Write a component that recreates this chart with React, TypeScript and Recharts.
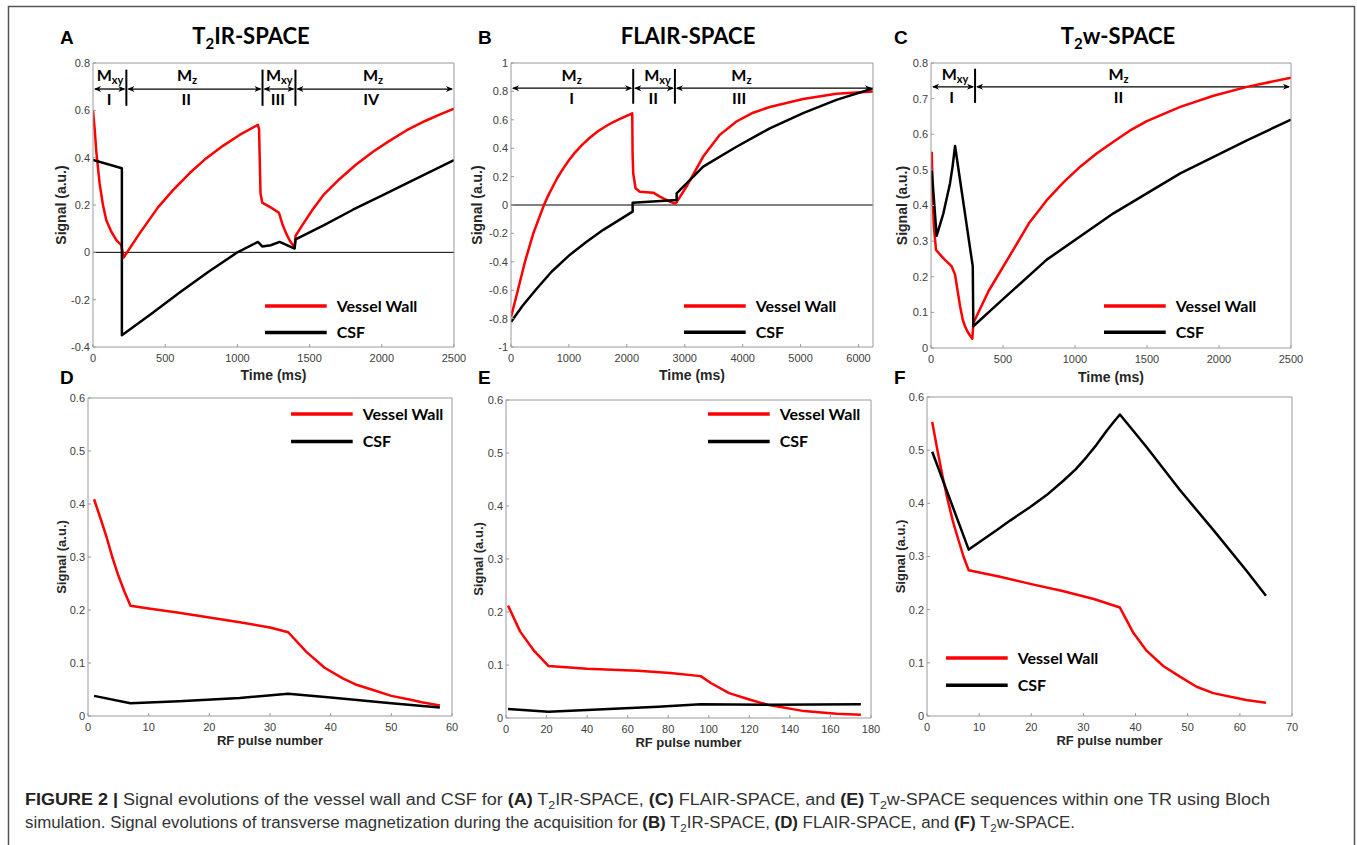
import React from 'react';
import { LineChart, Line, XAxis, YAxis, ReferenceLine, ReferenceDot, Legend } from 'recharts';

const RED = '#ff0000';
const BLACK = '#000000';
const AXIS = '#9a9a9a';
const SERIES_NAMES = ['Vessel Wall', 'CSF'];
const SERIES_COLORS = [RED, BLACK];

// ---------- Panel A : T2IR-SPACE (time evolution) ----------
const aVesselT = [0, 12, 23, 35, 46, 69, 92, 127, 162, 196, 205, 212, 323, 450, 554, 670, 785, 900, 1015, 1142, 1150, 1160, 1172, 1230, 1288, 1311, 1339, 1362, 1385, 1396, 1403, 1450, 1520, 1600, 1708, 1820, 1939, 2050, 2170, 2300, 2400, 2500];
const aVesselS = [0.6, 0.517, 0.426, 0.355, 0.29, 0.2, 0.136, 0.087, 0.052, 0.03, 0.0, -0.022, 0.08, 0.19, 0.263, 0.335, 0.398, 0.45, 0.496, 0.539, 0.52, 0.25, 0.21, 0.19, 0.167, 0.12, 0.078, 0.05, 0.03, 0.02, 0.07, 0.115, 0.18, 0.245, 0.31, 0.37, 0.425, 0.47, 0.515, 0.555, 0.582, 0.607];
const aCsfT = [0, 200, 200, 400, 600, 800, 1000, 1142, 1172, 1230, 1293, 1396, 1403, 1600, 1800, 2000, 2200, 2500];
const aCsfS = [0.39, 0.355, -0.35, -0.262, -0.17, -0.082, 0.0, 0.044, 0.025, 0.03, 0.044, 0.016, 0.055, 0.115, 0.18, 0.24, 0.3, 0.39];
const aXTicks = [0, 500, 1000, 1500, 2000, 2500];
const aYTicks = [-0.4, -0.2, 0, 0.2, 0.4, 0.6, 0.8];
const aBars = [231, 1174, 1402];
const aArrowX = [0, 231, 1174, 1402, 2500];
const aMX = [118, 651, 1290, 1939];
const aRomanX = [111, 646, 1281, 1927];
const aSub = ['xy', 'z', 'xy', 'z'];
const aRoman = ['I', 'II', 'III', 'IV'];

// ---------- Panel B : FLAIR-SPACE (time evolution) ----------
const bVesselT = [0, 100, 241, 385, 569, 650, 799, 900, 1000, 1100, 1219, 1350, 1500, 1650, 1765, 1900, 2093, 2100, 2110, 2150, 2225, 2455, 2570, 2743, 2830, 2860, 3030, 3318, 3605, 3893, 4180, 4468, 5043, 5618, 6250];
const bVesselS = [-0.788, -0.63, -0.4, -0.2, 0.0, 0.073, 0.19, 0.256, 0.315, 0.367, 0.42, 0.47, 0.519, 0.558, 0.584, 0.61, 0.645, 0.35, 0.224, 0.118, 0.094, 0.087, 0.059, 0.024, 0.01, 0.02, 0.13, 0.341, 0.494, 0.588, 0.65, 0.69, 0.746, 0.784, 0.8];
const bCsfT = [0, 200, 443, 700, 1018, 1300, 1593, 1850, 2100, 2100, 2860, 2860, 3318, 3893, 4468, 5043, 5618, 6250];
const bCsfS = [-0.824, -0.71, -0.59, -0.47, -0.35, -0.26, -0.175, -0.11, -0.047, 0.016, 0.035, 0.082, 0.27, 0.41, 0.54, 0.647, 0.74, 0.82];
const bXTicks = [0, 1000, 2000, 3000, 4000, 5000, 6000];
const bYTicks = [-1, -0.8, -0.6, -0.4, -0.2, 0, 0.2, 0.4, 0.6, 0.8, 1];
const bBars = [2110, 2830];
const bArrowX = [0, 2110, 2830, 6250];
const bMX = [1047, 2530, 3979];
const bRomanX = [1047, 2455, 3939];
const bSub = ['z', 'xy', 'z'];
const bRoman = ['I', 'II', 'III'];

// ---------- Panel C : T2w-SPACE (time evolution) ----------
const cVesselT = [5, 8, 12, 20, 35, 90, 144, 167, 185, 202, 220, 236, 255, 271, 287, 294, 400, 572, 680, 804, 920, 1036, 1150, 1267, 1380, 1499, 1731, 1962, 2194, 2500];
const cVesselS = [0.551, 0.5, 0.42, 0.34, 0.275, 0.25, 0.229, 0.206, 0.16, 0.117, 0.08, 0.061, 0.045, 0.035, 0.026, 0.07, 0.16, 0.276, 0.35, 0.415, 0.465, 0.509, 0.546, 0.579, 0.61, 0.637, 0.677, 0.708, 0.733, 0.759];
const cCsfT = [5, 39, 86, 132, 150, 167, 290, 294, 500, 804, 1267, 1731, 2194, 2500];
const cCsfS = [0.5, 0.315, 0.378, 0.462, 0.51, 0.567, 0.229, 0.061, 0.137, 0.248, 0.378, 0.49, 0.583, 0.641];
const cXTicks = [0, 500, 1000, 1500, 2000, 2500];
const cYTicks = [0, 0.1, 0.2, 0.3, 0.4, 0.5, 0.6, 0.7, 0.8];
const cBars = [306];
const cArrowX = [0, 306, 2500];
const cMX = [167, 1302];
const cRomanX = [144, 1302];
const cSub = ['xy', 'z'];
const cRoman = ['I', 'II'];

// ---------- Panel D : T2IR-SPACE (per RF pulse) ----------
const dVesselN = [1, 2, 3, 4, 5, 6, 7, 10, 15, 20, 25, 30, 33, 36, 39, 42, 44, 47, 50, 53, 55, 58];
const dVesselS = [0.409, 0.375, 0.34, 0.3, 0.265, 0.235, 0.208, 0.203, 0.195, 0.186, 0.177, 0.167, 0.158, 0.121, 0.091, 0.071, 0.06, 0.049, 0.038, 0.031, 0.026, 0.02];
const dCsfN = [1, 7, 15, 25, 33, 40, 50, 58];
const dCsfS = [0.038, 0.024, 0.028, 0.034, 0.042, 0.035, 0.024, 0.016];
const dXTicks = [0, 10, 20, 30, 40, 50, 60];
const pulseYTicks = [0, 0.1, 0.2, 0.3, 0.4, 0.5, 0.6];

// ---------- Panel E : FLAIR-SPACE (per RF pulse) ----------
const eVesselN = [1, 7, 14, 21, 40, 65, 81, 96, 101, 110, 120, 129, 147, 163, 175];
const eVesselS = [0.212, 0.163, 0.126, 0.098, 0.093, 0.089, 0.085, 0.079, 0.066, 0.047, 0.035, 0.025, 0.013, 0.008, 0.006];
const eCsfN = [1, 21, 40, 56, 75, 96, 130, 175];
const eCsfS = [0.017, 0.012, 0.015, 0.018, 0.021, 0.026, 0.025, 0.026];
const eXTicks = [0, 20, 40, 60, 80, 100, 120, 140, 160, 180];

// ---------- Panel F : T2w-SPACE (per RF pulse) ----------
const fVesselN = [1, 2, 3, 4, 5, 6, 7, 8, 14, 20, 26, 32, 37, 39.6, 42, 45.3, 48.5, 51.7, 54.9, 61.2, 65];
const fVesselS = [0.553, 0.5, 0.45, 0.405, 0.365, 0.332, 0.3, 0.274, 0.262, 0.248, 0.235, 0.22, 0.204, 0.156, 0.124, 0.094, 0.074, 0.055, 0.043, 0.03, 0.025];
const fCsfN = [1, 8, 13.4, 16, 19.8, 23, 26.2, 28.5, 30.6, 32.5, 34.5, 35.8, 37, 42.1, 48.5, 54.9, 61.2, 65];
const fCsfS = [0.497, 0.313, 0.35, 0.368, 0.393, 0.416, 0.443, 0.464, 0.487, 0.51, 0.537, 0.553, 0.567, 0.506, 0.425, 0.35, 0.274, 0.226];
const fXTicks = [0, 10, 20, 30, 40, 50, 60, 70];

const zip = (xs: number[], ys: number[]) => xs.map((x, i) => ({ x, y: ys[i] }));
const fmt = (v: number) => String(Math.round(v * 100) / 100);

type Annot = {
  bars: number[]; barY: [number, number]; arrowX: number[]; arrowY: number;
  mX: number[]; romanX: number[]; sub: string[]; roman: string[]; mY: number; romanY: number;
};
type Cfg = {
  id: string; letter: string; letterX: number; letterY: number;
  title?: React.ReactNode; titleX?: number;
  box: { left: number; top: number; width: number; height: number };
  xDomain: [number, number]; xTicks: number[]; yDomain: [number, number]; yTicks: number[];
  vessel: { x: number; y: number }[]; csf: { x: number; y: number }[];
  zero: boolean; legend: { x: number; y: number; gap: number };
  xLabel: string; xLabelDy: number; yLabelDx: number; labelSize: number;
  annot?: Annot;
};

const TitleSub = ({ pre, post }: { pre: string; post: string }) => (
  <>
    {pre}
    <tspan fontSize={15} dy={5}>2</tspan>
    <tspan dy={-5}>{post}</tspan>
  </>
);

const panels: Cfg[] = [
  {
    id: 'A', letter: 'A', letterX: 60, letterY: 44, title: <TitleSub pre="T" post="IR-SPACE" />, titleX: 251,
    box: { left: 93, top: 63, width: 361, height: 284 },
    xDomain: [0, 2500], xTicks: aXTicks, yDomain: [-0.4, 0.8], yTicks: aYTicks,
    vessel: zip(aVesselT, aVesselS), csf: zip(aCsfT, aCsfS), zero: true,
    legend: { x: 265, y: 305.7, gap: 26.6 }, xLabel: 'Time (ms)', xLabelDy: 33, yLabelDx: 31.6, labelSize: 14,
    annot: { bars: aBars, barY: [0.619, 0.772], arrowX: aArrowX, arrowY: 0.69, mX: aMX, romanX: aRomanX, sub: aSub, roman: aRoman, mY: 0.722, romanY: 0.623 },
  },
  {
    id: 'B', letter: 'B', letterX: 478, letterY: 44, title: 'FLAIR-SPACE', titleX: 688,
    box: { left: 511, top: 63, width: 362, height: 284 },
    xDomain: [0, 6250], xTicks: bXTicks, yDomain: [-1, 1], yTicks: bYTicks,
    vessel: zip(bVesselT, bVesselS), csf: zip(bCsfT, bCsfS), zero: true,
    legend: { x: 684.3, y: 306, gap: 26.3 }, xLabel: 'Time (ms)', xLabelDy: 33, yLabelDx: 33.7, labelSize: 14,
    annot: { bars: bBars, barY: [0.713, 0.958], arrowX: bArrowX, arrowY: 0.823, mX: bMX, romanX: bRomanX, sub: bSub, roman: bRoman, mY: 0.871, romanY: 0.713 },
  },
  {
    id: 'C', letter: 'C', letterX: 894, letterY: 44, title: <TitleSub pre="T" post="w-SPACE" />, titleX: 1118,
    box: { left: 931, top: 63, width: 360, height: 285 },
    xDomain: [0, 2500], xTicks: cXTicks, yDomain: [0, 0.8], yTicks: cYTicks,
    vessel: zip(cVesselT, cVesselS), csf: zip(cCsfT, cCsfS), zero: false,
    legend: { x: 1104.3, y: 306, gap: 26.3 }, xLabel: 'Time (ms)', xLabelDy: 33.5, yLabelDx: 29.3, labelSize: 14,
    annot: { bars: cBars, barY: [0.688, 0.784], arrowX: cArrowX, arrowY: 0.733, mX: cMX, romanX: cRomanX, sub: cSub, roman: cRoman, mY: 0.751, romanY: 0.689 },
  },
  {
    id: 'D', letter: 'D', letterX: 60, letterY: 384,
    box: { left: 88, top: 398, width: 364, height: 318 },
    xDomain: [0, 60], xTicks: dXTicks, yDomain: [0, 0.6], yTicks: pulseYTicks,
    vessel: zip(dVesselN, dVesselS), csf: zip(dCsfN, dCsfS), zero: false,
    legend: { x: 290.7, y: 414.3, gap: 27.4 }, xLabel: 'RF pulse number', xLabelDy: 29, yLabelDx: 26.7, labelSize: 13,
  },
  {
    id: 'E', letter: 'E', letterX: 478, letterY: 384,
    box: { left: 506, top: 400, width: 365, height: 318 },
    xDomain: [0, 180], xTicks: eXTicks, yDomain: [0, 0.6], yTicks: pulseYTicks,
    vessel: zip(eVesselN, eVesselS), csf: zip(eCsfN, eCsfS), zero: false,
    legend: { x: 708.3, y: 414.3, gap: 27.4 }, xLabel: 'RF pulse number', xLabelDy: 29, yLabelDx: 27.3, labelSize: 13,
  },
  {
    id: 'F', letter: 'F', letterX: 894, letterY: 384,
    box: { left: 927, top: 397, width: 365, height: 319 },
    xDomain: [0, 70], xTicks: fXTicks, yDomain: [0, 0.6], yTicks: pulseYTicks,
    vessel: zip(fVesselN, fVesselS), csf: zip(fCsfN, fCsfS), zero: false,
    legend: { x: 946, y: 657.7, gap: 27.3 }, xLabel: 'RF pulse number', xLabelDy: 29, yLabelDx: 26.7, labelSize: 13,
  },
];

const LATO = 'Lato, "Open Sans", sans-serif';
const ARIAL = '"Liberation Sans", Arial, Helvetica, sans-serif';
const TICK = { fontSize: 11, fill: '#404040', fontFamily: ARIAL };

const ArrowShape = (p: any) => {
  const { x1, y1, x2 } = p;
  const h = 7;
  const w = 3;
  const n = 2;
  const l = Math.min(x1, x2);
  const r = Math.max(x1, x2);
  const y = y1;
  return (
    <g>
      <line x1={l + 2} y1={y} x2={r - 2} y2={y} stroke="#000" strokeWidth={1.3} />
      <polygon points={`${l + 1},${y} ${l + 1 + h},${y - w} ${l + 1 + h - n},${y} ${l + 1 + h},${y + w}`} fill="#000" />
      <polygon points={`${r - 1},${y} ${r - 1 - h},${y - w} ${r - 1 - h + n},${y} ${r - 1 - h},${y + w}`} fill="#000" />
    </g>
  );
};

const MLabel = ({ cx, cy, sub }: any) => (
  <text x={cx} y={cy} textAnchor="middle" fontFamily={LATO} fontWeight={700} fontSize={16} fill="#000">
    M<tspan fontSize={11} dy={3}>{sub}</tspan>
  </text>
);

const RomanLabel = ({ cx, cy, txt }: any) => (
  <text x={cx} y={cy} textAnchor="middle" fontFamily={LATO} fontWeight={700} fontSize={16} fill="#000">
    {txt}
  </text>
);

const LegendBox = (props: any) => {
  const gap: number = props.gap;
  const payload: any[] = props.payload && props.payload.length ? props.payload : [];
  const items = SERIES_NAMES.map((name, i) => {
    const hit = payload.find((p: any) => String(p.value) === name);
    return { name, color: hit && hit.color ? hit.color : SERIES_COLORS[i] };
  });
  return (
    <svg width={200} height={gap + 18} style={{ display: 'block', overflow: 'visible' }}>
      {items.map((it, i) => {
        const y = 8 + i * gap;
        return (
          <g key={it.name}>
            <line x1={0} y1={y} x2={61.7} y2={y} stroke={it.color} strokeWidth={3.5} />
            <text x={71.7} y={y + 5.6} fontFamily={LATO} fontWeight={700} fontSize={16} fill="#000">
              {it.name}
            </text>
          </g>
        );
      })}
    </svg>
  );
};

function Panel({ cfg }: { cfg: Cfg }) {
  const { box } = cfg;
  const chartLeft = box.left - 60;
  const chartTop = box.top - 10;
  const W = box.width + 81;
  const H = box.height + 50;
  const a = cfg.annot;
  const ann: React.ReactNode[] = [];
  if (a) {
    for (let i = 0; i < a.arrowX.length - 1; i++) {
      ann.push(
        <ReferenceLine
          key={`ar${i}`}
          segment={[{ x: a.arrowX[i], y: a.arrowY }, { x: a.arrowX[i + 1], y: a.arrowY }]}
          ifOverflow="visible"
          shape={(p: any) => <ArrowShape {...p} />}
        />
      );
    }
    a.bars.forEach((b, i) =>
      ann.push(
        <ReferenceLine
          key={`bar${i}`}
          segment={[{ x: b, y: a.barY[0] }, { x: b, y: a.barY[1] }]}
          stroke="#000"
          strokeWidth={2}
          ifOverflow="visible"
        />
      )
    );
    a.mX.forEach((mx, i) =>
      ann.push(
        <ReferenceDot key={`m${i}`} x={mx} y={a.mY} r={0} ifOverflow="visible" shape={(p: any) => <MLabel cx={p.cx} cy={p.cy} sub={a.sub[i]} />} />
      )
    );
    a.romanX.forEach((rx, i) =>
      ann.push(
        <ReferenceDot key={`r${i}`} x={rx} y={a.romanY} r={0} ifOverflow="visible" shape={(p: any) => <RomanLabel cx={p.cx} cy={p.cy} txt={a.roman[i]} />} />
      )
    );
  }
  return (
    <div style={{ position: 'absolute', left: chartLeft, top: chartTop }}>
      <LineChart width={W} height={H} margin={{ top: 9, right: 20, bottom: 0, left: 0 }}>
        <XAxis dataKey="x" type="number" domain={cfg.xDomain} ticks={cfg.xTicks} interval={0} allowDataOverflow height={40} tickSize={-3} tickMargin={10} tickFormatter={fmt} stroke={AXIS} tick={TICK} />
        <XAxis xAxisId="top" orientation="top" dataKey="x" type="number" domain={cfg.xDomain} ticks={cfg.xTicks} interval={0} allowDataOverflow height={1} tickSize={-3} tick={false} stroke={AXIS} />
        <YAxis type="number" domain={cfg.yDomain} ticks={cfg.yTicks} interval={0} allowDataOverflow width={60} tickSize={-3} tickMargin={6} tickFormatter={fmt} stroke={AXIS} tick={TICK} />
        <YAxis yAxisId="right" orientation="right" type="number" domain={cfg.yDomain} ticks={cfg.yTicks} interval={0} allowDataOverflow width={1} tickSize={-3} tick={false} stroke={AXIS} />
        {cfg.zero && <ReferenceLine y={0} stroke="#000" strokeWidth={1} ifOverflow="visible" />}
        {ann}
        <Line data={cfg.vessel} dataKey="y" name={SERIES_NAMES[0]} stroke={RED} strokeWidth={2.5} dot={false} type="linear" isAnimationActive={false} strokeLinejoin="round" />
        <Line data={cfg.csf} dataKey="y" name={SERIES_NAMES[1]} stroke={BLACK} strokeWidth={2.5} dot={false} type="linear" isAnimationActive={false} strokeLinejoin="round" />
        <Legend
          layout="vertical"
          align="center"
          verticalAlign="middle"
          wrapperStyle={{ left: cfg.legend.x - chartLeft, top: cfg.legend.y - 8 - chartTop, width: 200, height: cfg.legend.gap + 18 }}
          content={(p: any) => <LegendBox {...p} gap={cfg.legend.gap} />}
        />
      </LineChart>
    </div>
  );
}

const B = ({ t }: { t: string }) => (
  <tspan fontWeight={700} fill="#222">{t}</tspan>
);

export default function App() {
  return (
    <div style={{ position: 'absolute', left: 0, top: 0, width: 1357, height: 845, overflow: 'hidden', background: '#fff' }}>
      <svg width={1357} height={845} style={{ position: 'absolute', left: 0, top: 0 }}>
        <rect x={8.5} y={6.5} width={1346} height={900} fill="none" stroke="#555" strokeWidth={1.5} />
        {panels.map((p) => (
          <g key={p.id}>
            <text x={p.letterX} y={p.letterY} fontFamily={ARIAL} fontWeight={700} fontSize={19} fill="#000">{p.letter}</text>
            {p.title && (
              <text x={p.titleX} y={44} textAnchor="middle" fontFamily={LATO} fontWeight={700} fontSize={22} fill="#000">{p.title}</text>
            )}
            <text x={p.box.left + p.box.width / 2} y={p.box.top + p.box.height + p.xLabelDy} textAnchor="middle" fontFamily={ARIAL} fontWeight={700} fontSize={p.labelSize} fill="#262626">{p.xLabel}</text>
            <text
              x={p.box.left - p.yLabelDx}
              y={p.box.top + p.box.height / 2}
              transform={`rotate(-90 ${p.box.left - p.yLabelDx} ${p.box.top + p.box.height / 2})`}
              textAnchor="middle"
              dominantBaseline="central"
              fontFamily={ARIAL}
              fontWeight={700}
              fontSize={p.labelSize}
              fill="#262626"
            >
              Signal (a.u.)
            </text>
          </g>
        ))}
        <text x={25} y={805} fontFamily={ARIAL} fontSize={16} fill="#333" textLength={1245} lengthAdjust="spacingAndGlyphs">
          <B t="FIGURE 2 | " />
          <tspan>{'Signal evolutions of the vessel wall and CSF for '}</tspan>
          <B t="(A)" />
          <tspan>{' T'}</tspan>
          <tspan fontSize={11} dy={4}>2</tspan>
          <tspan dy={-4}>{'IR-SPACE, '}</tspan>
          <B t="(C)" />
          <tspan>{' FLAIR-SPACE, and '}</tspan>
          <B t="(E)" />
          <tspan>{' T'}</tspan>
          <tspan fontSize={11} dy={4}>2</tspan>
          <tspan dy={-4}>{'w-SPACE sequences within one TR using Bloch'}</tspan>
        </text>
        <text x={25} y={828} fontFamily={ARIAL} fontSize={16} fill="#333" textLength={1050} lengthAdjust="spacingAndGlyphs">
          <tspan>{'simulation. Signal evolutions of transverse magnetization during the acquisition for '}</tspan>
          <B t="(B)" />
          <tspan>{' T'}</tspan>
          <tspan fontSize={11} dy={4}>2</tspan>
          <tspan dy={-4}>{'IR-SPACE, '}</tspan>
          <B t="(D)" />
          <tspan>{' FLAIR-SPACE, and '}</tspan>
          <B t="(F)" />
          <tspan>{' T'}</tspan>
          <tspan fontSize={11} dy={4}>2</tspan>
          <tspan dy={-4}>{'w-SPACE.'}</tspan>
        </text>
      </svg>
      {panels.map((p) => (
        <Panel key={p.id} cfg={p} />
      ))}
    </div>
  );
}
